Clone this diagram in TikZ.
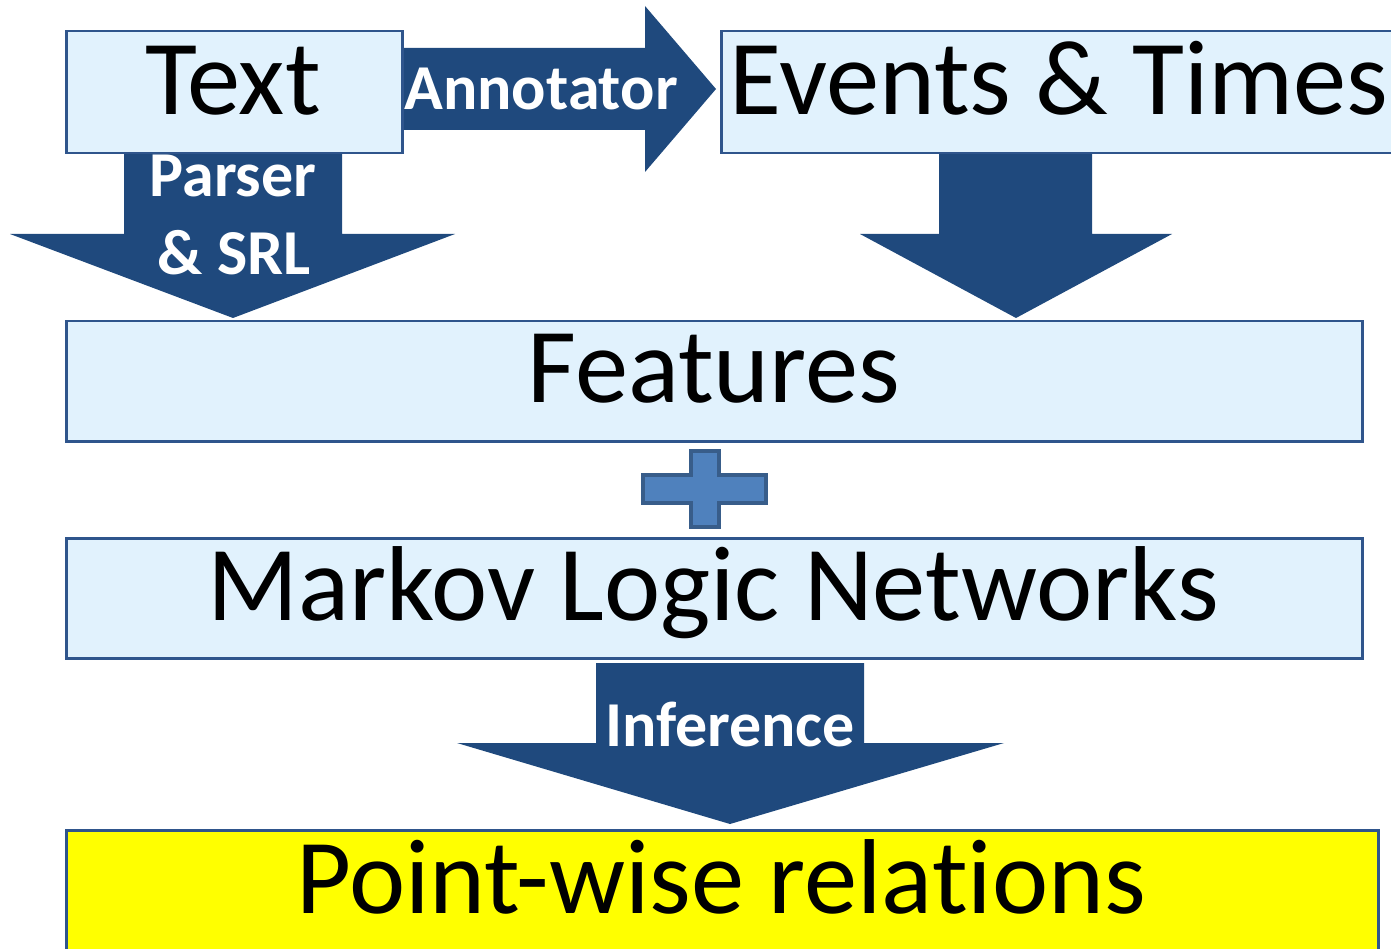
\documentclass[tikz,border=0pt]{standalone}
\usepackage{fontspec}
\setmainfont[Ligatures=NoCommon]{Carlito}
\definecolor{arrowblue}{RGB}{31,73,125}
\definecolor{boxfill}{RGB}{225,242,253}
\definecolor{boxline}{RGB}{47,85,140}
\definecolor{plusfill}{RGB}{79,129,189}
\definecolor{plusline}{RGB}{56,93,138}
\definecolor{pwyellow}{RGB}{255,255,0}
\begin{document}
\begin{tikzpicture}[x=1pt,y=-1pt,
  box/.style={draw=boxline,line width=2.5pt,fill=boxfill},
  blockarrow/.style={fill=arrowblue,draw=none},
  bigtext/.style={anchor=base,inner sep=0pt,font=\fontsize{106.5}{106.5}\selectfont},
  arrowtext/.style={anchor=base,inner sep=0pt,text=white,font=\bfseries\fontsize{64}{64}\selectfont}]
\useasboundingbox (0,0) rectangle (1391,949);
% block arrows
\fill[blockarrow] (401,48) -- (645,48) -- (645,6) -- (716,89) -- (645,172) -- (645,130) -- (401,130) -- cycle;
\fill[blockarrow] (124,150) -- (342,150) -- (342,234) -- (455,234) -- (233,318) -- (10,234) -- (124,234) -- cycle;
\fill[blockarrow] (939,150) -- (1092,150) -- (1092,234) -- (1172,234) -- (1016,318) -- (860,234) -- (939,234) -- cycle;
\fill[blockarrow] (596,663) -- (864,663) -- (864,743) -- (1004,743) -- (730,824) -- (457,743) -- (596,743) -- cycle;
% boxes
\node[box,anchor=north west,minimum width=336pt,minimum height=122pt] (textbox) at (65,30) {};
\node[box,anchor=north west,minimum width=700pt,minimum height=122pt] (eventsbox) at (720,30) {};
\node[box,anchor=north west,minimum width=1296pt,minimum height=120pt] (featbox) at (65,320) {};
\node[box,anchor=north west,minimum width=1296pt,minimum height=120pt] (mlnbox) at (65,537) {};
\node[box,fill=pwyellow,anchor=north west,minimum width=1312pt,minimum height=140pt] (pwbox) at (65,829) {};
% plus sign
\draw[fill=plusfill,draw=plusline,line width=4.5pt] (691,451) -- (719,451) -- (719,475) -- (766,475) -- (766,503) -- (719,503) -- (719,527) -- (691,527) -- (691,503) -- (643,503) -- (643,475) -- (691,475) -- cycle;
% texts
\node[bigtext] (t1) at (233,115) {Text};
\node[bigtext] (t2) at (1059,115) {Events \& Times};
\node[bigtext] (t3) at (714,402) {Features};
\node[bigtext] (t4) at (713,620) {Markov Logic Networks};
\node[bigtext] (t5) at (721,913) {Point-wise relations};
\node[arrowtext] (a1) at (541,110) {Annotator};
\node[arrowtext] (a2) at (233,197) {Parser};
\node[arrowtext] (a3) at (234,275) {\& SRL};
\node[arrowtext] (a4) at (730,746) {Inference};
\end{tikzpicture}
\end{document}
